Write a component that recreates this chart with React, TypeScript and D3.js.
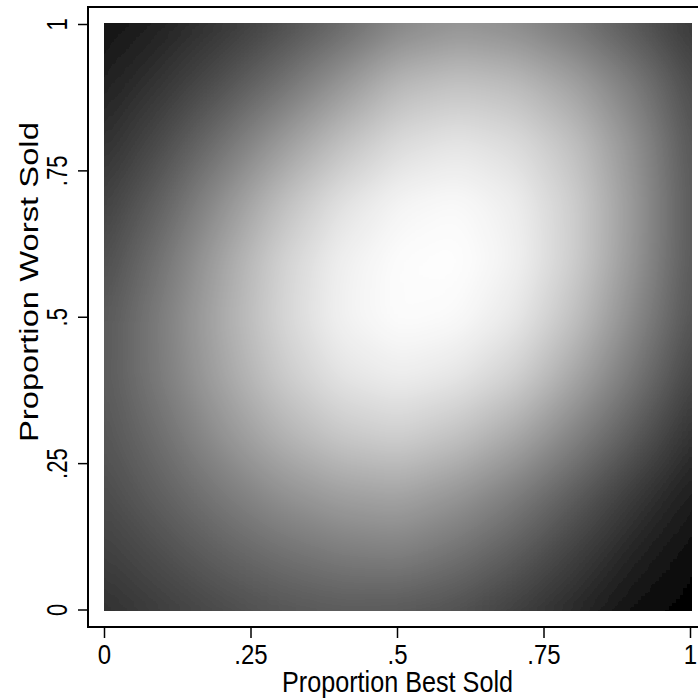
import React, { useEffect, useState } from "react";
import { scaleLinear } from "d3";

// grid positions of the shaded surface
const bestLevels = [0, 0.1, 0.2, 0.3, 0.4, 0.5, 0.6, 0.7, 0.8, 0.9, 1];
const worstLevels = [1, 0.9, 0.8, 0.7, 0.6, 0.5, 0.4, 0.3, 0.2, 0.1, 0];

// gray level (0 black .. 255 white), one row per worstLevels entry
const shadeRows = [
	[20, 35, 55, 78, 105, 135, 148, 140, 118, 88, 56],
	[33, 55, 82, 114, 150, 185, 196, 188, 162, 123, 75],
	[48, 78, 115, 155, 192, 220, 230, 220, 192, 145, 85],
	[65, 100, 145, 190, 225, 245, 250, 238, 205, 152, 88],
	[78, 118, 165, 210, 240, 253, 255, 242, 205, 150, 87],
	[88, 128, 172, 213, 242, 253, 250, 232, 192, 138, 82],
	[90, 126, 165, 202, 228, 238, 230, 208, 166, 118, 68],
	[85, 113, 147, 178, 200, 208, 194, 168, 130, 90, 48],
	[76, 98, 122, 145, 160, 165, 150, 125, 92, 58, 28],
	[63, 80, 98, 113, 124, 128, 114, 92, 64, 35, 12],
	[48, 62, 75, 85, 90, 88, 80, 62, 40, 15, 0]
];

const tickValues = [0, 0.25, 0.5, 0.75, 1];
const tickLabels = ["0", ".25", ".5", ".75", "1"];

const xTitle = "Proportion Best Sold";
const yTitle = "Proportion Worst Sold";

const width = 698;
const height = 699;
const margins = { top: 24.5, right: 7.5, bottom: 89, left: 104.5 };

export default function App() {
	const [href, setHref] = useState("");

	const xScale = scaleLinear()
		.domain([0, 1])
		.range([margins.left, width - margins.right]);
	const yScale = scaleLinear()
		.domain([0, 1])
		.range([height - margins.bottom, margins.top]);

	const nx = bestLevels.length;
	const ny = worstLevels.length;
	const pad = 1; //edge pixels repeated so the blur has something to eat at the border

	useEffect(() => {
		//paint one pixel per grid point, the browser smooths it when scaled up
		const canvas = document.createElement("canvas");
		canvas.width = nx + pad * 2;
		canvas.height = ny + pad * 2;
		const ctx = canvas.getContext("2d");
		if (!ctx) return;
		const img = ctx.createImageData(canvas.width, canvas.height);
		for (let j = 0; j < canvas.height; j++) {
			for (let i = 0; i < canvas.width; i++) {
				const r = Math.min(ny - 1, Math.max(0, j - pad));
				const c = Math.min(nx - 1, Math.max(0, i - pad));
				const v = shadeRows[r][c];
				const k = (j * canvas.width + i) * 4;
				img.data[k] = v;
				img.data[k + 1] = v;
				img.data[k + 2] = v;
				img.data[k + 3] = 255;
			}
		}
		ctx.putImageData(img, 0, 0);
		setHref(canvas.toDataURL());
	}, []);

	const step = bestLevels[1] - bestLevels[0];
	const ext = step * (pad + 0.5);
	const imgX = xScale(bestLevels[0] - ext);
	const imgW = xScale(bestLevels[nx - 1] + ext) - imgX;
	const imgY = yScale(worstLevels[0] + ext);
	const imgH = yScale(worstLevels[ny - 1] - ext) - imgY;

	const frameLeft = 88;
	const frameTop = 7;
	const frameBottom = 627;
	const font = "'Liberation Sans', Arial, sans-serif";

	return (
		<svg
			width={width}
			height={height}
			style={{ position: "absolute", left: 0, top: 0, background: "#fff" }}
		>
			<defs>
				<clipPath id="plotClip">
					<rect
						x={xScale(0) - 0.5}
						y={yScale(1) - 1.5}
						width={xScale(1) - xScale(0) + 2}
						height={yScale(0) - yScale(1) + 2.5}
					/>
				</clipPath>
				<filter id="soften" x="-0.1" y="-0.1" width="1.2" height="1.2">
					<feGaussianBlur stdDeviation={13} />
				</filter>
			</defs>
			<g clipPath="url(#plotClip)">
				{href && (
					<image
						href={href}
						x={imgX}
						y={imgY}
						width={imgW}
						height={imgH}
						preserveAspectRatio="none"
						filter="url(#soften)"
					/>
				)}
			</g>
			{/* frame */}
			<path
				d={`M${width + 20},${frameTop}H${frameLeft}V${frameBottom}H${width + 20}`}
				fill="none"
				stroke="#000"
				strokeWidth={2}
			/>
			{/* y axis */}
			{tickValues.map((t, i) => (
				<g key={"y" + t}>
					<line
						x1={frameLeft - 10}
						x2={frameLeft}
						y1={yScale(t)}
						y2={yScale(t)}
						stroke="#000"
						strokeWidth={1.5}
					/>
					<text
						transform={`translate(67,${yScale(t)}) rotate(-90) scale(1,1.3)`}
						textAnchor="middle"
						fontFamily={font}
						fontSize={22}
						fill="#000"
					>
						{tickLabels[i]}
					</text>
				</g>
			))}
			{/* x axis */}
			{tickValues.map((t, i) => (
				<g key={"x" + t}>
					<line
						x1={xScale(t)}
						x2={xScale(t)}
						y1={frameBottom}
						y2={frameBottom + 11}
						stroke="#000"
						strokeWidth={1.5}
					/>
					<text
						transform={`translate(${xScale(t)},664) scale(1,1.15)`}
						textAnchor="middle"
						fontFamily={font}
						fontSize={24}
						fill="#000"
					>
						{tickLabels[i]}
					</text>
				</g>
			))}
			<text
				transform={`translate(${xScale(0.5)},692) scale(1,1.15)`}
				textAnchor="middle"
				fontFamily={font}
				fontSize={25}
				textLength={231}
				lengthAdjust="spacingAndGlyphs"
				fill="#000"
			>
				{xTitle}
			</text>
			<text
				transform={`translate(38,${yScale(0.56)}) rotate(-90)`}
				textAnchor="middle"
				fontFamily={font}
				fontSize={26}
				textLength={320}
				lengthAdjust="spacingAndGlyphs"
				fill="#000"
			>
				{yTitle}
			</text>
		</svg>
	);
}
